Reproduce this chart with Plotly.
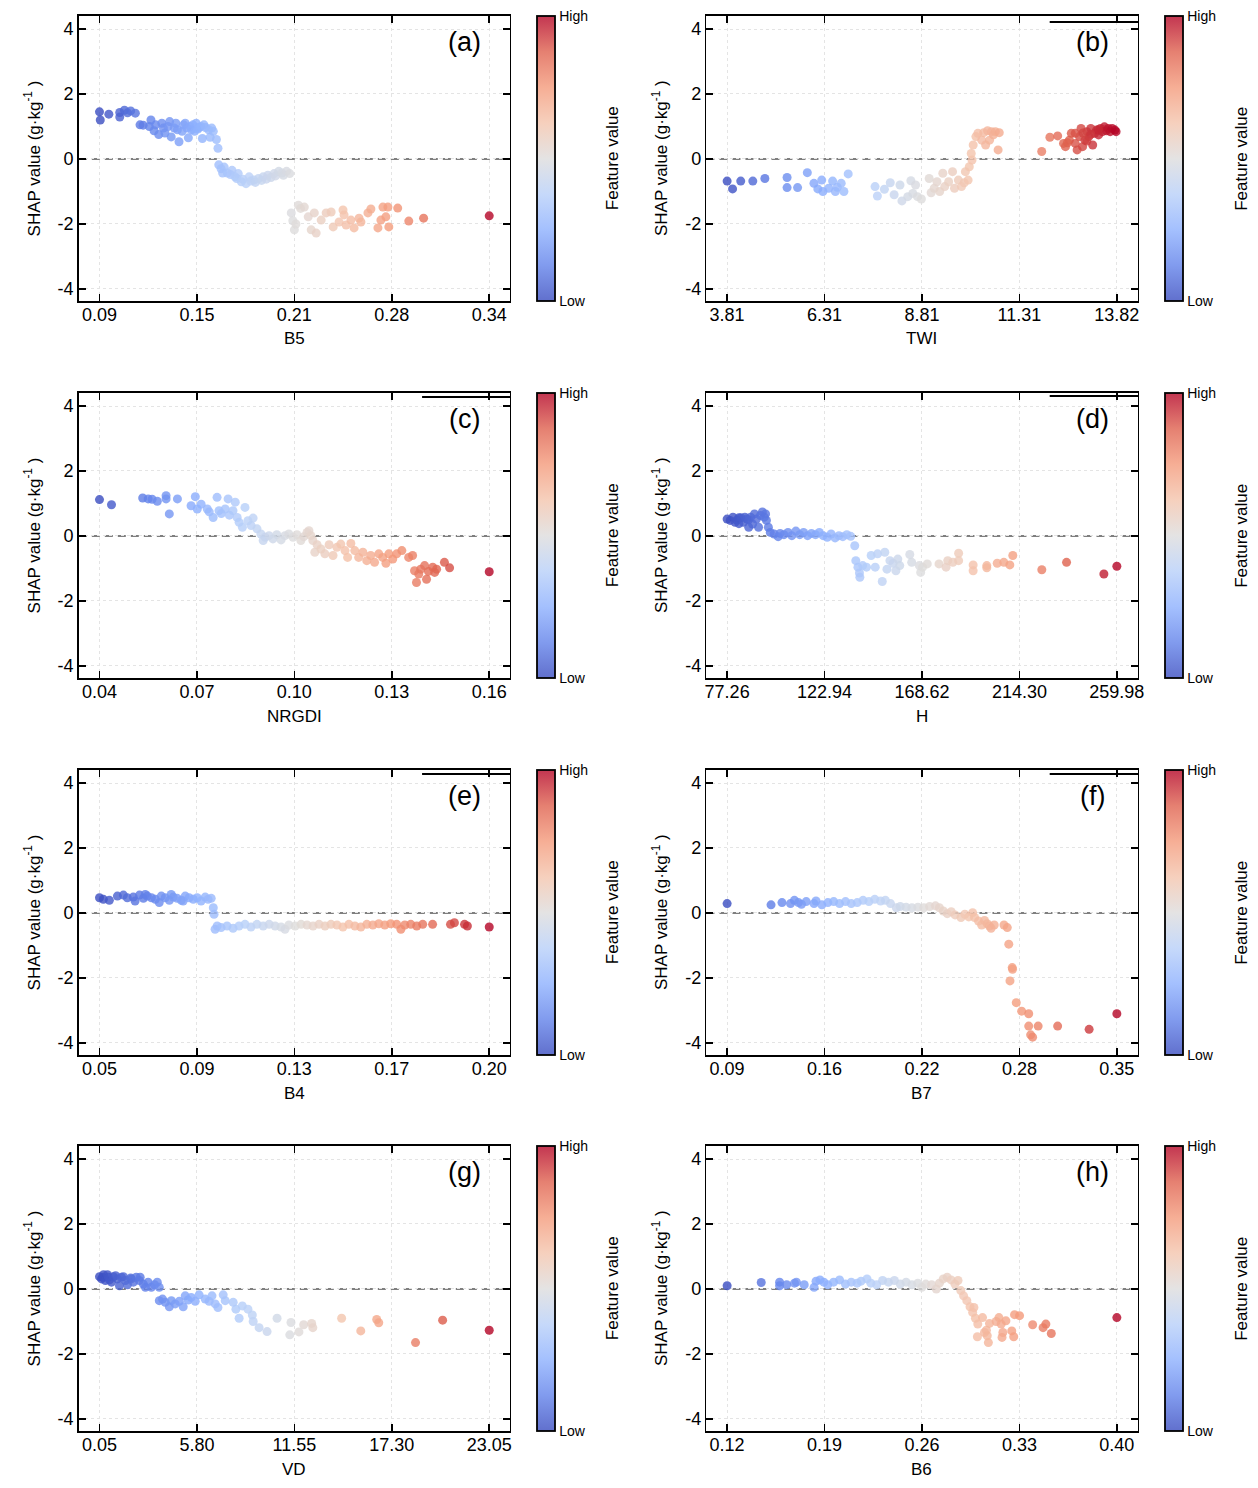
import plotly.graph_objects as go
import numpy as np

# ---------------- data ----------------
B5_POINTS = [
    (0.090, 1.45), (0.0905, 1.20), (0.096, 1.38), (0.103, 1.29), (0.103, 1.43), (0.106, 1.50),
    (0.108, 1.42), (0.110, 1.48), (0.113, 1.41), (0.116, 1.05), (0.118, 1.04),
    (0.122, 1.00), (0.123, 1.20), (0.125, 0.87), (0.126, 1.05), (0.128, 0.75), (0.130, 1.10),
    (0.131, 0.95), (0.132, 0.80), (0.134, 1.00), (0.135, 1.15), (0.136, 0.68), (0.138, 0.95),
    (0.139, 1.10), (0.140, 0.90), (0.141, 0.53), (0.143, 0.85), (0.144, 1.05), (0.145, 1.10),
    (0.146, 0.95), (0.147, 0.65), (0.148, 1.00), (0.149, 0.90), (0.150, 1.05), (0.151, 0.85),
    (0.152, 1.10), (0.153, 0.92), (0.154, 0.97), (0.155, 1.00), (0.156, 0.63), (0.157, 1.05),
    (0.158, 0.97), (0.160, 0.90), (0.161, 0.67), (0.162, 0.95), (0.163, 0.85), (0.165, 0.60),
    (0.166, 0.33),
    (0.1665, -0.18), (0.168, -0.30), (0.169, -0.43), (0.170, -0.25), (0.172, -0.43), (0.174, -0.48),
    (0.175, -0.35), (0.177, -0.55), (0.178, -0.60), (0.179, -0.45), (0.181, -0.70), (0.182, -0.62),
    (0.184, -0.76), (0.186, -0.55), (0.187, -0.68), (0.189, -0.65), (0.190, -0.72), (0.192, -0.60),
    (0.194, -0.66), (0.195, -0.55), (0.197, -0.62), (0.198, -0.50), (0.200, -0.57), (0.202, -0.45),
    (0.203, -0.52), (0.205, -0.38), (0.207, -0.43), (0.208, -0.50), (0.210, -0.38), (0.212, -0.45),
    (0.213, -1.66), (0.214, -1.90), (0.215, -2.18), (0.216, -2.00), (0.2176, -1.42), (0.219, -1.52),
    (0.2214, -1.48), (0.2239, -1.78), (0.2258, -2.18), (0.2278, -1.66), (0.229, -2.28), (0.2322, -1.88),
    (0.2354, -1.66), (0.2386, -1.63), (0.2399, -2.09), (0.2437, -1.94), (0.2462, -1.57), (0.2469, -1.72),
    (0.2482, -2.03), (0.2513, -1.88), (0.2533, -2.12), (0.2565, -1.82), (0.2577, -1.94), (0.2622, -1.66),
    (0.2641, -1.54), (0.2686, -2.12), (0.2705, -1.88), (0.2718, -1.48), (0.2737, -1.78), (0.275, -1.48),
    (0.2756, -2.09), (0.2813, -1.51), (0.2884, -1.91), (0.2979, -1.82), (0.340, -1.75),
]

TWI_POINTS = [
    (3.81, -0.68), (3.95, -0.92), (4.16, -0.68), (4.47, -0.68), (4.78, -0.60), (5.35, -0.57),
    (5.35, -0.88), (5.62, -0.88), (5.87, -0.42), (6.04, -0.75), (6.24, -0.65), (6.14, -0.92),
    (6.27, -1.00), (6.42, -0.90), (6.52, -0.68), (6.59, -1.00), (6.64, -0.87), (6.74, -0.75),
    (6.81, -1.00), (6.92, -0.46),
    (7.61, -0.85), (7.67, -1.14), (7.85, -0.93), (8.00, -0.73), (8.10, -1.10), (8.25, -0.80),
    (8.30, -1.29), (8.45, -1.16), (8.53, -0.67), (8.58, -1.06), (8.65, -0.80), (8.70, -1.16),
    (8.80, -1.23),
    (9.00, -0.60), (9.05, -1.04), (9.13, -0.90), (9.20, -0.70), (9.27, -1.00), (9.35, -0.44),
    (9.40, -0.85), (9.50, -0.70), (9.60, -0.39), (9.65, -0.90), (9.75, -0.65), (9.83, -0.85),
    (9.90, -0.73), (9.93, -0.39), (10.00, -0.65),
    (10.03, -0.24), (10.10, -0.03), (10.08, 0.17), (10.13, 0.43), (10.20, 0.69), (10.25, 0.79),
    (10.35, 0.58), (10.40, 0.81), (10.50, 0.87), (10.45, 0.43), (10.55, 0.58), (10.60, 0.84),
    (10.65, 0.74), (10.70, 0.84), (10.77, 0.28), (10.80, 0.81),
    (11.89, 0.23), (12.10, 0.67), (12.30, 0.71), (12.45, 0.48), (12.50, 0.38), (12.60, 0.58),
    (12.65, 0.79), (12.75, 0.48), (12.80, 0.28), (12.86, 0.69), (12.90, 0.94), (12.94, 0.38),
    (13.00, 0.58), (13.05, 0.84), (13.10, 0.69), (13.15, 0.94), (13.20, 0.43), (13.25, 0.79),
    (13.30, 0.89), (13.35, 0.74), (13.40, 0.94), (13.45, 0.84), (13.50, 0.99), (13.55, 0.87),
    (13.60, 0.94), (13.65, 0.84), (13.70, 0.94), (13.77, 0.89), (13.80, 0.84), (12.75, 0.79),
    (12.95, 0.80), (13.15, 0.76), (13.35, 0.90), (12.55, 0.50), (13.05, 0.55),
]

NRGDI_POINTS = [
    (0.040, 1.12), (0.0437, 0.96), (0.0533, 1.17), (0.055, 1.14), (0.0562, 1.13), (0.0578, 1.07),
    (0.0605, 1.24), (0.0605, 1.14), (0.0615, 0.68), (0.064, 1.14), (0.0682, 0.93), (0.0695, 1.21),
    (0.0701, 0.83), (0.0713, 0.98), (0.0732, 0.83), (0.0738, 0.74), (0.075, 0.57), (0.0762, 1.19),
    (0.0768, 0.78), (0.0775, 0.69), (0.0787, 0.83), (0.0796, 1.14), (0.080, 0.64), (0.0811, 0.78),
    (0.0818, 1.04), (0.0824, 0.57), (0.083, 0.42), (0.084, 0.27), (0.0848, 0.88), (0.0857, 0.47),
    (0.0867, 0.32), (0.0873, 0.55), (0.0885, 0.22), (0.0897, 0.06), (0.091, -0.04), (0.0904, -0.14),
    (0.0922, 0.01), (0.0934, -0.09), (0.0946, 0.04), (0.0959, -0.12), (0.0971, 0.01), (0.0983, 0.06),
    (0.0996, -0.04), (0.1008, 0.04), (0.102, -0.14), (0.1029, -0.02), (0.1039, 0.11), (0.1045, 0.16),
    (0.1051, 0.01), (0.1057, -0.14), (0.1063, -0.50), (0.107, -0.27), (0.1082, -0.40), (0.1094, -0.55),
    (0.1107, -0.27), (0.1119, -0.60), (0.1131, -0.35), (0.1143, -0.25), (0.1156, -0.45), (0.1164, -0.66),
    (0.1174, -0.23), (0.1186, -0.45), (0.1198, -0.66), (0.1211, -0.50), (0.1223, -0.76), (0.1235, -0.60),
    (0.1247, -0.81), (0.126, -0.55), (0.1272, -0.66), (0.1282, -0.84), (0.1291, -0.55), (0.1303, -0.71),
    (0.1315, -0.55), (0.1331, -0.45), (0.1352, -0.66), (0.1364, -0.60), (0.137, -1.07), (0.1376, -1.43),
    (0.1383, -1.17), (0.1389, -1.02), (0.1401, -0.91), (0.1407, -1.33), (0.1413, -1.09), (0.1426, -0.96),
    (0.1432, -1.12), (0.1438, -1.02), (0.1462, -0.81), (0.1478, -0.98), (0.160, -1.10),
]

H_POINTS = [
    (77.26, 0.52), (78.7, 0.48), (80.0, 0.58), (81.0, 0.42), (81.9, 0.49), (82.8, 0.38), (82.8, 0.56),
    (83.7, 0.56), (84.9, 0.42), (85.6, 0.58), (86.5, 0.52), (87.4, 0.27), (87.4, 0.50), (88.3, 0.58),
    (89.2, 0.37), (90.1, 0.68), (91.0, 0.52), (92.0, 0.27), (92.9, 0.63), (93.8, 0.74), (94.7, 0.58),
    (95.3, 0.68), (95.7, 0.48),
    (96.6, 0.27), (97.5, 0.11), (99.3, 0.06), (101.2, -0.02), (102.1, 0.08), (103.9, 0.04),
    (105.8, 0.11), (107.6, 0.01), (109.5, 0.15), (111.3, 0.04), (113.1, 0.11), (115.0, 0.01),
    (116.8, 0.08), (118.7, 0.04), (120.5, 0.11), (122.3, 0.01), (124.2, -0.04), (126.0, 0.06),
    (127.9, -0.06), (129.7, 0.01), (131.5, -0.02), (133.4, 0.04), (135.2, -0.01),
    (137.1, -0.30), (137.6, -0.76), (138.6, -0.96), (139.3, -1.14), (139.5, -1.27), (140.8, -0.91),
    (142.6, -0.96), (144.8, -0.60), (146.7, -0.96), (147.8, -0.55), (150.0, -1.40), (151.2, -0.50),
    (152.2, -1.02), (153.6, -0.76), (155.1, -0.84), (156.4, -1.07), (157.3, -0.71), (158.2, -0.91),
    (162.9, -0.57), (163.8, -0.81), (167.4, -0.91), (168.0, -1.12), (168.9, -0.96), (171.1, -0.86),
    (176.6, -0.86), (179.9, -0.96), (180.7, -0.76), (183.1, -0.81), (185.8, -0.53), (185.8, -0.76),
    (192.6, -0.89), (192.6, -1.07), (199.0, -0.91), (199.0, -0.98), (203.9, -0.84), (207.0, -0.81),
    (209.8, -0.89), (211.2, -0.60), (224.8, -1.04), (236.4, -0.81), (253.9, -1.17), (259.98, -0.93),
]

B4_POINTS = [
    (0.050, 0.47), (0.0515, 0.42), (0.0538, 0.39), (0.0569, 0.52), (0.0592, 0.55), (0.0607, 0.47),
    (0.063, 0.49), (0.0637, 0.37), (0.0654, 0.55), (0.0669, 0.45), (0.0676, 0.57), (0.0684, 0.52),
    (0.070, 0.47), (0.0715, 0.42), (0.073, 0.32), (0.0738, 0.52), (0.0753, 0.47), (0.0769, 0.39),
    (0.0776, 0.57), (0.0784, 0.49), (0.0799, 0.45), (0.0815, 0.39), (0.0822, 0.37), (0.083, 0.52),
    (0.0845, 0.47), (0.0861, 0.42), (0.0876, 0.47), (0.0891, 0.37), (0.0907, 0.49), (0.0918, 0.42),
    (0.093, 0.45), (0.0938, 0.16), (0.0941, -0.04),
    (0.0945, -0.50), (0.0953, -0.40), (0.0968, -0.45), (0.0991, -0.40), (0.1014, -0.47), (0.1037, -0.40),
    (0.106, -0.35), (0.1083, -0.43), (0.1106, -0.35), (0.113, -0.40), (0.1153, -0.35), (0.1176, -0.40),
    (0.1199, -0.43), (0.1214, -0.50), (0.1229, -0.37), (0.1253, -0.40), (0.1276, -0.35), (0.1299, -0.37),
    (0.1322, -0.40), (0.1345, -0.35), (0.1368, -0.40), (0.1391, -0.35), (0.1414, -0.37), (0.1437, -0.43),
    (0.146, -0.35), (0.1483, -0.40), (0.1506, -0.43), (0.1529, -0.35), (0.1552, -0.37), (0.1575, -0.33),
    (0.1598, -0.37), (0.1621, -0.33), (0.1644, -0.35), (0.166, -0.50), (0.1675, -0.37), (0.1698, -0.35),
    (0.1721, -0.40), (0.1744, -0.35), (0.1782, -0.35), (0.1851, -0.35), (0.1866, -0.30), (0.1905, -0.35),
    (0.1916, -0.40), (0.200, -0.43),
]

B7_POINTS = [
    (0.090, 0.29), (0.1193, 0.25), (0.1266, 0.32), (0.1323, 0.29), (0.1349, 0.39), (0.1376, 0.32),
    (0.1396, 0.27), (0.1428, 0.35), (0.148, 0.29), (0.1493, 0.37), (0.1532, 0.25), (0.1572, 0.32),
    (0.1611, 0.35), (0.165, 0.29), (0.169, 0.35), (0.1728, 0.29), (0.1768, 0.32), (0.1807, 0.39),
    (0.1846, 0.35), (0.1885, 0.42), (0.1924, 0.37), (0.1956, 0.39), (0.199, 0.29), (0.2029, 0.16),
    (0.2055, 0.20), (0.2094, 0.18), (0.2133, 0.16), (0.2173, 0.18), (0.2212, 0.16), (0.2251, 0.20),
    (0.229, 0.22), (0.2316, 0.16), (0.2342, 0.06), (0.2369, -0.02), (0.2395, 0.04), (0.2421, -0.06),
    (0.246, -0.14), (0.2486, -0.04), (0.2512, -0.12), (0.2538, 0.01), (0.2551, -0.14), (0.2577, -0.25),
    (0.2598, -0.37), (0.2617, -0.23), (0.2635, -0.33), (0.265, -0.40), (0.2661, -0.47), (0.2682, -0.37),
    (0.2747, -0.37), (0.2769, -0.45), (0.2779, -0.96), (0.2802, -1.68), (0.2804, -1.73), (0.2787, -2.09),
    (0.2829, -2.76), (0.2865, -3.02), (0.2912, -3.10), (0.2912, -3.48), (0.2925, -3.75), (0.2938, -3.82),
    (0.2975, -3.48), (0.3105, -3.48), (0.3315, -3.58), (0.350, -3.10),
]

VD_POINTS = [
    (0.05, 0.38), (0.17, 0.31), (0.24, 0.36), (0.29, 0.44), (0.40, 0.26), (0.52, 0.44), (0.57, 0.36),
    (0.64, 0.28), (0.76, 0.21), (0.87, 0.38), (1.00, 0.41), (1.11, 0.31), (1.23, 0.10), (1.34, 0.36),
    (1.46, 0.38), (1.58, 0.26), (1.70, 0.13), (1.89, 0.34), (1.93, 0.31), (2.05, 0.21), (2.22, 0.36),
    (2.40, 0.26), (2.45, 0.36), (2.64, 0.15), (2.76, 0.05), (2.92, 0.21), (3.11, 0.05), (3.30, 0.13),
    (3.46, 0.21), (3.58, 0.05),
    (3.58, -0.36), (3.77, -0.31), (3.93, -0.41), (4.17, -0.55), (4.29, -0.36), (4.52, -0.46),
    (4.76, -0.38), (4.99, -0.55), (5.11, -0.21), (5.28, -0.34), (5.46, -0.26), (5.70, -0.38),
    (5.93, -0.18), (6.29, -0.31), (6.52, -0.38), (6.69, -0.21), (6.88, -0.46), (7.04, -0.57),
    (7.35, -0.18), (7.47, -0.36), (7.94, -0.41), (8.10, -0.62), (8.29, -0.90), (8.48, -0.52),
    (8.81, -0.62), (9.07, -0.80), (9.12, -1.00), (9.47, -1.19), (9.94, -1.31), (10.53, -0.90),
    (11.28, -1.41), (11.35, -1.03), (11.82, -1.32), (12.10, -1.10), (12.57, -1.06), (12.64, -1.19),
    (14.34, -0.90), (15.47, -1.29), (16.41, -0.94), (16.53, -1.04), (18.70, -1.65), (20.30, -0.96),
    (23.05, -1.27),
]

B6_POINTS = [
    (0.120, 0.10), (0.1445, 0.20), (0.1577, 0.21), (0.1577, 0.10), (0.1628, 0.13), (0.1684, 0.18),
    (0.1698, 0.21), (0.1754, 0.13), (0.1825, 0.05), (0.1839, 0.24), (0.1867, 0.28), (0.1895, 0.21),
    (0.1923, 0.13), (0.1965, 0.21), (0.2008, 0.28), (0.205, 0.15), (0.2092, 0.21), (0.2134, 0.18),
    (0.2162, 0.24), (0.2205, 0.31), (0.2233, 0.18), (0.2275, 0.13), (0.2317, 0.26), (0.2359, 0.21),
    (0.2402, 0.26), (0.2444, 0.15), (0.2486, 0.21), (0.2528, 0.13), (0.257, 0.18), (0.2599, 0.05),
    (0.2627, 0.15), (0.2669, 0.13), (0.2703, 0.00), (0.2725, 0.18), (0.2753, 0.31), (0.2781, 0.36),
    (0.2809, 0.28), (0.2837, 0.15), (0.2859, 0.26), (0.2879, -0.05), (0.2899, -0.21), (0.2922, -0.36),
    (0.2945, -0.55), (0.2964, -0.72), (0.2973, -0.57), (0.2984, -0.90), (0.3001, -1.08), (0.2998, -1.47),
    (0.3035, -0.88), (0.3049, -1.34), (0.3063, -1.27), (0.3077, -1.65), (0.3069, -1.44), (0.3085, -1.06),
    (0.3133, -1.00), (0.3153, -0.88), (0.3169, -1.08), (0.3181, -1.34), (0.3175, -1.49), (0.3203, -0.98),
    (0.3245, -1.29), (0.3259, -1.47), (0.3265, -0.79), (0.3301, -0.82), (0.3395, -1.10), (0.347, -1.19),
    (0.349, -1.08), (0.3529, -1.37), (0.400, -0.88),
]

FEATURES = ["B5", "TWI", "NRGDI", "H", "B4", "B7", "VD", "B6"]
PANEL_LABELS = ["(a)", "(b)", "(c)", "(d)", "(e)", "(f)", "(g)", "(h)"]
X_MIN = [0.09, 3.81, 0.04, 77.26, 0.05, 0.09, 0.05, 0.12]
X_MAX = [0.34, 13.82, 0.16, 259.98, 0.20, 0.35, 23.05, 0.40]
X_TICK_LABELS = [
    ["0.09", "0.15", "0.21", "0.28", "0.34"],
    ["3.81", "6.31", "8.81", "11.31", "13.82"],
    ["0.04", "0.07", "0.10", "0.13", "0.16"],
    ["77.26", "122.94", "168.62", "214.30", "259.98"],
    ["0.05", "0.09", "0.13", "0.17", "0.20"],
    ["0.09", "0.16", "0.22", "0.28", "0.35"],
    ["0.05", "5.80", "11.55", "17.30", "23.05"],
    ["0.12", "0.19", "0.26", "0.33", "0.40"],
]
POINTS = [B5_POINTS, TWI_POINTS, NRGDI_POINTS, H_POINTS, B4_POINTS, B7_POINTS, VD_POINTS, B6_POINTS]
Y_TICKS = [-4, -2, 0, 2, 4]

# ---------------- styling ----------------
W, H = 1258, 1488
SX = 1.005   # small horizontal correction of layout positions
FONT = "Arial, Liberation Sans, sans-serif"
COOL = [(0.0, (58, 76, 192)), (0.125, (98, 130, 234)), (0.25, (141, 176, 254)),
        (0.375, (184, 208, 249)), (0.5, (221, 220, 220)), (0.625, (244, 196, 173)),
        (0.75, (244, 154, 123)), (0.875, (222, 96, 77)), (1.0, (180, 4, 38))]
CS = [[s, "rgb(%d,%d,%d)" % c] for s, c in COOL]
CS_LIGHT = [[s, "rgb(%d,%d,%d)" % tuple(int(round(v * 0.8 + 255 * 0.2)) for v in c)] for s, c in COOL]

COL_X = [(77, 509), (706, 1138)]
CBAR_X = [536, 1166]
ROW_Y = [(16, 301), (393, 678), (770, 1055), (1146, 1431)]
ARTIFACT_DY = [0, 6, 4, 3, 4, 4, 0, 0]   # small offset border segments near the panel labels


def px(v):
    return min(v * SX / W, 1.0)


def py(v):
    return 1 - v / H


fig = go.Figure()
layout = dict(width=W, height=H, autosize=False, margin=dict(l=0, r=0, t=0, b=0, pad=0),
              paper_bgcolor="white", plot_bgcolor="white", showlegend=False,
              font=dict(family=FONT, color="black"))
annotations = []
shapes = []

for i in range(8):
    r, c = divmod(i, 2)
    n = i + 1
    x0, x1 = COL_X[c]
    y0, y1 = ROW_Y[r]
    xs = [p[0] for p in POINTS[i]]
    ys = [p[1] for p in POINTS[i]]
    xmin, xmax = X_MIN[i], X_MAX[i]
    span = xmax - xmin
    suf = "" if n == 1 else str(n)
    xa, ya = "x" + suf, "y" + suf

    fig.add_trace(go.Scatter(
        x=xs, y=ys, mode="markers", xaxis=xa, yaxis=ya, hoverinfo="skip",
        marker=dict(size=9, color=xs, colorscale=CS, cmin=xmin, cmax=xmax,
                    opacity=0.8, line=dict(width=0), showscale=False)))
    fig.add_trace(go.Scatter(
        x=[xmin], y=[-100], mode="markers", xaxis=xa, yaxis=ya, hoverinfo="skip",
        marker=dict(color=[xmin], colorscale=CS_LIGHT, cmin=xmin, cmax=xmax, showscale=True,
                    colorbar=dict(x=px(CBAR_X[c]), xanchor="left", xpad=0, ypad=0,
                                  y=1 - (y0 + y1) / 2 / H, yanchor="middle",
                                  len=(y1 - y0) / H, lenmode="fraction",
                                  thickness=18, thicknessmode="pixels",
                                  outlinewidth=1.8, outlinecolor="black",
                                  tickvals=[xmin, xmax], ticktext=["Low", "High"],
                                  ticks="", tickfont=dict(size=14, family=FONT, color="black")))))

    axis_common = dict(ticks="inside", ticklen=7, tickwidth=1.5, tickcolor="black",
                       showline=True, linecolor="black", linewidth=1.6, mirror="ticks",
                       showgrid=True, gridcolor="#e4e4e4", griddash="dot", gridwidth=1,
                       zeroline=False, tickfont=dict(size=18, family=FONT, color="black"))
    layout["xaxis" + suf] = dict(domain=[px(x0), px(x1)], anchor=ya,
                                 range=[xmin - 0.053 * span, xmax + 0.053 * span],
                                 tickvals=list(np.linspace(xmin, xmax, 5)),
                                 ticktext=X_TICK_LABELS[i], ticklabelstandoff=-3, **axis_common)
    layout["yaxis" + suf] = dict(domain=[py(y1), py(y0)], anchor=xa,
                                 range=[-4.37, 4.4], tickvals=Y_TICKS,
                                 ticktext=[str(v) for v in Y_TICKS], **axis_common)

    shapes.append(dict(type="line", xref=xa + " domain", yref=ya, x0=0, x1=1, y0=0, y1=0,
                       line=dict(color="#555555", width=1.6, dash="8px,5px"), layer="below"))
    if ARTIFACT_DY[i]:
        shapes.append(dict(type="line", xref="paper", yref="paper",
                           x0=px(x1 - 88), x1=px(x1 + 1),
                           y0=py(y0 + ARTIFACT_DY[i]), y1=py(y0 + ARTIFACT_DY[i]),
                           line=dict(color="black", width=1.8), layer="above"))

    annotations.append(dict(text=PANEL_LABELS[i], xref="paper", yref="paper",
                            x=px(x1 - 45), y=py(y0 + 26), xanchor="center", yanchor="middle",
                            showarrow=False, font=dict(size=27, family=FONT, color="black")))
    annotations.append(dict(text=FEATURES[i], xref="paper", yref="paper",
                            x=px((x0 + x1) / 2), y=py(y1 + 38), xanchor="center", yanchor="middle",
                            showarrow=False, font=dict(size=17, family=FONT, color="black")))
    annotations.append(dict(text="SHAP value (g·kg<sup>-1</sup> )", xref="paper", yref="paper",
                            x=px(x0 - 47), y=py((y0 + y1) / 2), xanchor="center", yanchor="middle",
                            showarrow=False, textangle=-90,
                            font=dict(size=17, family=FONT, color="black")))
    annotations.append(dict(text="Feature value", xref="paper", yref="paper",
                            x=px(CBAR_X[c] + 76), y=py((y0 + y1) / 2), xanchor="center",
                            yanchor="middle", showarrow=False, textangle=-90,
                            font=dict(size=17, family=FONT, color="black")))

layout["annotations"] = annotations
layout["shapes"] = shapes
fig.update_layout(**layout)
fig.write_html("out.html", config={"staticPlot": True})
